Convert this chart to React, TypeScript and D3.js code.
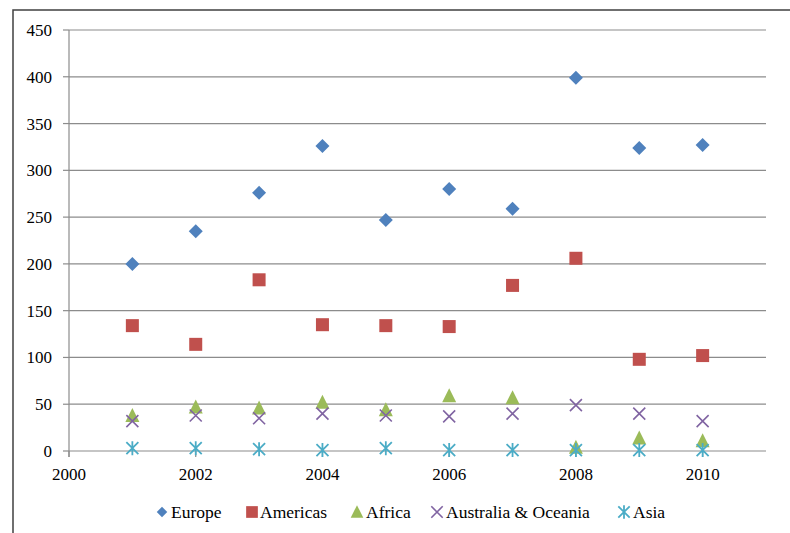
import React from "react";
import * as d3 from "d3";

const years = [2001, 2002, 2003, 2004, 2005, 2006, 2007, 2008, 2009, 2010];
const europe = [200, 235, 276, 326, 247, 280, 259, 399, 324, 327];
const americas = [134, 114, 183, 135, 134, 133, 177, 206, 98, 102];
const africa = [38, 47, 46, 52, 44, 59, 57, 4, 14, 11];
const australia = [32, 38, 35, 40, 38, 37, 40, 49, 40, 32];
const asia = [3, 3, 2, 1, 3, 1, 1, 1, 1, 1];
const seriesNames = ["Europe", "Americas", "Africa", "Australia & Oceania", "Asia"];
const seriesColors = ["#4F81BD", "#C0504D", "#9BBB59", "#8064A2", "#4BACC6"];
const seriesShapes = ["diamond", "square", "triangle", "x", "star"];
const yTicks = [0, 50, 100, 150, 200, 250, 300, 350, 400, 450];
const xTicks = [2000, 2002, 2004, 2006, 2008, 2010];

const W = 790, H = 533;
const x = d3.scaleLinear().domain([2000, 2011]).range([69, 766]);
const y = d3.scaleLinear().domain([0, 450]).range([451, 30]);

function Marker({ shape, cx, cy, color, k = 1 }: { shape: string; cx: number; cy: number; color: string; k?: number }) {
  if (shape === "diamond") {
    const r = 7 * k;
    return <path d={`M${cx},${cy - r}L${cx + r},${cy}L${cx},${cy + r}L${cx - r},${cy}Z`} fill={color} />;
  }
  if (shape === "square") {
    const s = 13 * k;
    return <rect x={cx - s / 2} y={cy - s / 2} width={s} height={s} fill={color} />;
  }
  if (shape === "triangle") {
    const w = 14 * k, h = 13 * k;
    return <path d={`M${cx},${cy - h / 2 - 1}L${cx + w / 2},${cy + h / 2}L${cx - w / 2},${cy + h / 2}Z`} fill={color} />;
  }
  if (shape === "x") {
    const r = 6 * k;
    return (
      <path d={`M${cx - r},${cy - r}L${cx + r},${cy + r}M${cx - r},${cy + r}L${cx + r},${cy - r}`} stroke={color} strokeWidth={1.6} fill="none" />
    );
  }
  const r = 6 * k;
  return (
    <path d={`M${cx - r},${cy - r}L${cx + r},${cy + r}M${cx - r},${cy + r}L${cx + r},${cy - r}M${cx},${cy - r - 1}L${cx},${cy + r + 1}`} stroke={color} strokeWidth={1.8} fill="none" />
  );
}

export default function App() {
  const data = [europe, americas, africa, australia, asia];
  const fontStyle = { fontFamily: "Liberation Serif, DejaVu Serif, serif" };
  const legendX = [162, 252, 357, 437, 624];
  const legendK = [0.75, 0.9, 0.9, 0.95, 0.95];
  const legendY = 512;
  return (
    <svg width={W} height={H} style={{ position: "absolute", left: 0, top: 0, background: "#fff" }}>
      <rect x={13} y={10} width={W + 10} height={H + 10} fill="#fff" stroke="#404040" strokeWidth={1.5} />
      {yTicks.map((t) => (
        <g key={t}>
          <line x1={x(2000)} x2={x(2011)} y1={y(t)} y2={y(t)} stroke="#8c8c8c" strokeWidth={1.2} />
          <line x1={63} x2={x(2000)} y1={y(t)} y2={y(t)} stroke="#8c8c8c" strokeWidth={1.2} />
          <text x={52} y={y(t)} dy="0.35em" textAnchor="end" style={fontStyle} fontSize={17} fill="#000">{t}</text>
        </g>
      ))}
      <line x1={x(2000)} x2={x(2000)} y1={y(450)} y2={y(0) + 6} stroke="#8c8c8c" strokeWidth={1.2} />
      {xTicks.map((t) => (
        <g key={t}>
          <line x1={x(t)} x2={x(t)} y1={y(0)} y2={y(0) + 6} stroke="#8c8c8c" strokeWidth={1.2} />
          <text x={x(t)} y={480} textAnchor="middle" style={fontStyle} fontSize={17} fill="#000">{t}</text>
        </g>
      ))}
      {data.map((vals, si) =>
        vals.map((v, i) => (
          <Marker key={`${si}-${i}`} shape={seriesShapes[si]} cx={x(years[i])} cy={y(v)} color={seriesColors[si]} />
        ))
      )}
      {seriesNames.map((n, i) => (
        <g key={n}>
          <Marker shape={seriesShapes[i]} cx={legendX[i]} cy={legendY} color={seriesColors[i]} k={legendK[i]} />
          <text x={legendX[i] + (i === 1 ? 8 : 9)} y={518} style={fontStyle} fontSize={17.5} fill="#000">{n}</text>
        </g>
      ))}
    </svg>
  );
}
